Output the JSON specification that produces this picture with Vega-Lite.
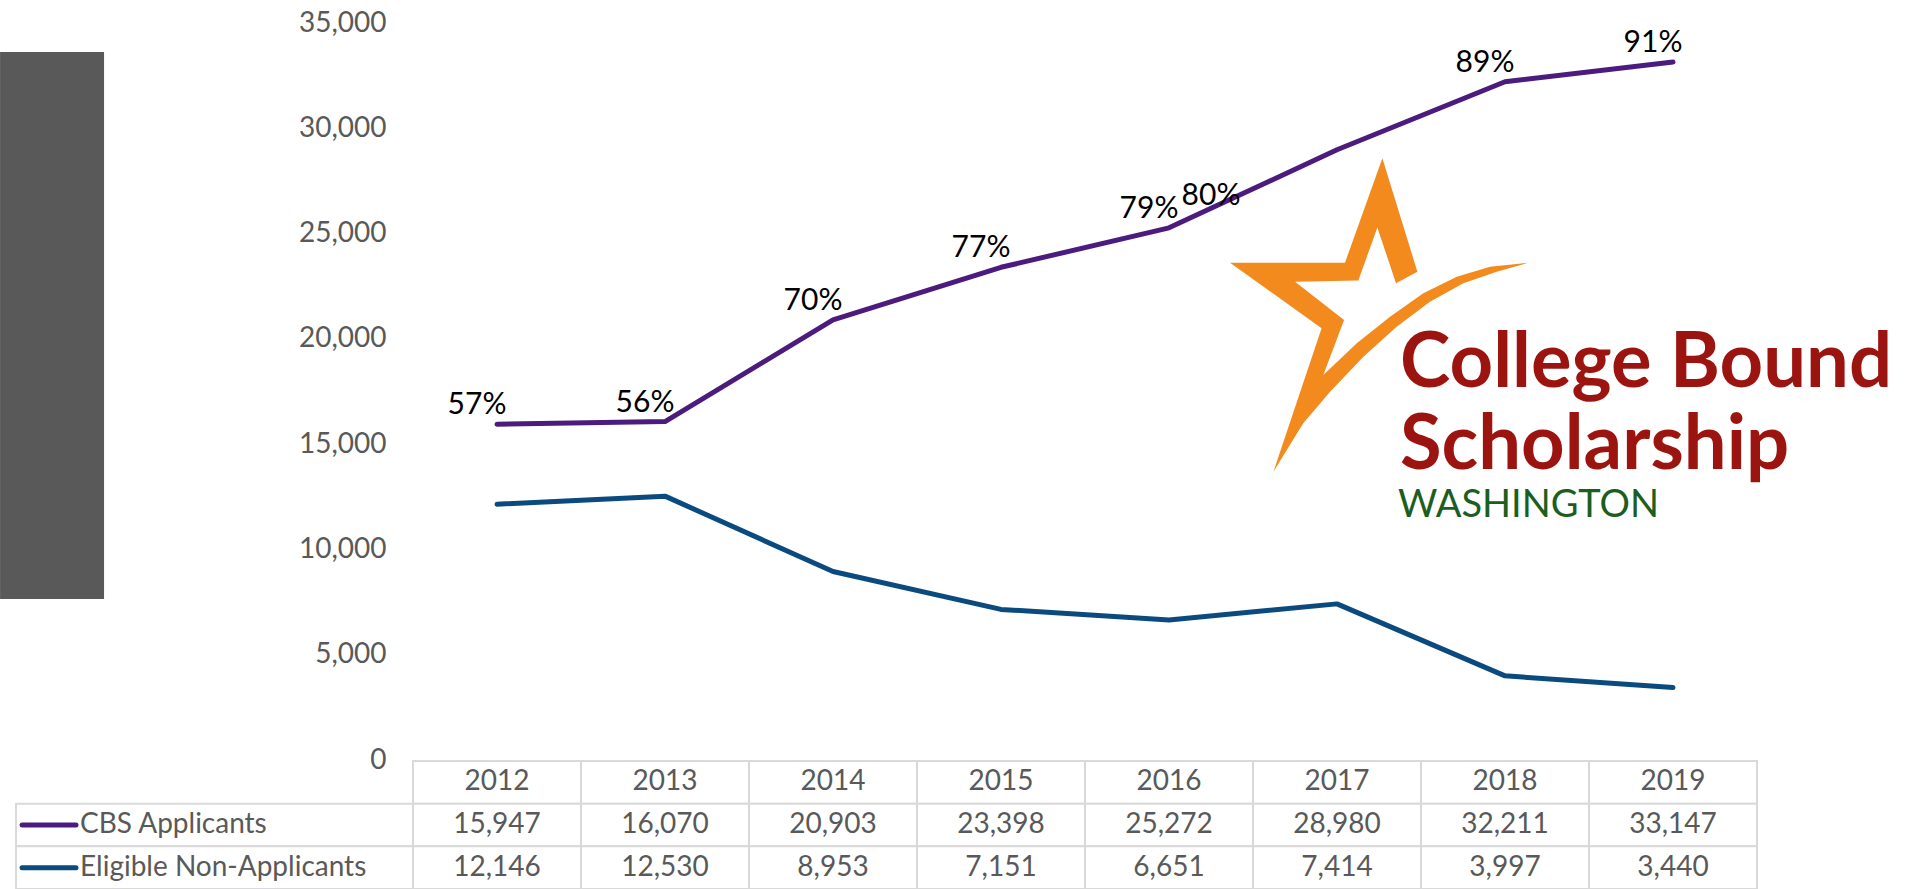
{
  "$schema": "https://vega.github.io/schema/vega-lite/v6.json",
  "autosize": {"type": "none"},
  "width": 1344,
  "height": 866,
  "padding": {"left": 413, "top": 23, "right": 156, "bottom": 0},
  "background": "white",
  "config": {"view": {"stroke": null}, "font": "Lato"},
  "data": {"values": [
    {"year": 2012, "series": "CBS Applicants", "value": 15947, "pct": 0.57},
    {"year": 2013, "series": "CBS Applicants", "value": 16070, "pct": 0.56},
    {"year": 2014, "series": "CBS Applicants", "value": 20903, "pct": 0.70},
    {"year": 2015, "series": "CBS Applicants", "value": 23398, "pct": 0.77},
    {"year": 2016, "series": "CBS Applicants", "value": 25272, "pct": 0.79},
    {"year": 2017, "series": "CBS Applicants", "value": 28980, "pct": 0.80},
    {"year": 2018, "series": "CBS Applicants", "value": 32211, "pct": 0.89},
    {"year": 2019, "series": "CBS Applicants", "value": 33147, "pct": 0.91},
    {"year": 2012, "series": "Eligible Non-Applicants", "value": 12146},
    {"year": 2013, "series": "Eligible Non-Applicants", "value": 12530},
    {"year": 2014, "series": "Eligible Non-Applicants", "value": 8953},
    {"year": 2015, "series": "Eligible Non-Applicants", "value": 7151},
    {"year": 2016, "series": "Eligible Non-Applicants", "value": 6651},
    {"year": 2017, "series": "Eligible Non-Applicants", "value": 7414},
    {"year": 2018, "series": "Eligible Non-Applicants", "value": 3997},
    {"year": 2019, "series": "Eligible Non-Applicants", "value": 3440}
  ]},
  "resolve": {"scale": {"x": "independent", "y": "independent"}},
  "layer": [
    {
      "layer": [
        {
          "data": {"values": [{}]},
          "mark": {"type": "rect", "color": "#595959"},
          "encoding": {
            "x": {"datum": 2009.042, "type": "quantitative", "scale": {"domain": [2011.5, 2019.5], "nice": false, "zero": false}, "axis": null},
            "x2": {"datum": 2009.661},
            "y": {"datum": 33623, "type": "quantitative", "scale": {"domain": [0, 35000], "range": [737, 0], "nice": false, "zero": false},
              "axis": {"values": [0, 5000, 10000, 15000, 20000, 25000, 30000, 35000], "labelExpr": "format(datum.value, ',')", "domain": false, "ticks": false, "grid": false, "labelPadding": 27, "labelFont": "Lato", "labelFontSize": 28, "labelColor": "#595959", "title": null}},
            "y2": {"datum": 7646}
          }
        },
        {
          "data": {"values": [{}]},
          "mark": {"type": "point", "filled": true, "opacity": 1, "color": "#F28A1E", "strokeWidth": 0, "size": 98596,
            "shape": "M0.015,-0.998L-0.223,-0.333L-0.955,-0.333L-0.372,0.085L-0.679,0.998L-0.489,0.690L-0.318,0.489L-0.106,0.266L0.106,0.075L0.318,-0.085L0.531,-0.202L0.743,-0.276L0.945,-0.333L0.701,-0.308L0.489,-0.244L0.276,-0.138L0.064,0.011L-0.148,0.180L-0.361,0.382L-0.229,0.032L-0.541,-0.212L-0.138,-0.219L-0.017,-0.558L0.102,-0.202L0.238,-0.276Z"},
          "encoding": {
            "x": {"datum": 2017.256, "type": "quantitative"},
            "y": {"datum": 21133, "type": "quantitative"}
          }
        },
        {
          "data": {"values": [{}]},
          "mark": {"type": "text", "text": "College Bound", "align": "left", "baseline": "alphabetic", "font": "Lato", "fontWeight": "bold", "fontSize": 76, "color": "#9B1410"},
          "encoding": {
            "x": {"datum": 2017.375, "type": "quantitative"},
            "y": {"datum": 17714, "type": "quantitative"}
          }
        },
        {
          "data": {"values": [{}]},
          "mark": {"type": "text", "text": "Scholarship", "align": "left", "baseline": "alphabetic", "font": "Lato", "fontWeight": "bold", "fontSize": 76, "color": "#9B1410"},
          "encoding": {
            "x": {"datum": 2017.375, "type": "quantitative"},
            "y": {"datum": 13820, "type": "quantitative"}
          }
        },
        {
          "data": {"values": [{}]},
          "mark": {"type": "text", "text": "WASHINGTON", "align": "left", "baseline": "alphabetic", "font": "Lato", "fontWeight": "normal", "fontSize": 38, "letterSpacing": 16, "color": "#1B5E20"},
          "encoding": {
            "x": {"datum": 2017.363, "type": "quantitative"},
            "y": {"datum": 11540, "type": "quantitative"}
          }
        },
        {
          "mark": {"type": "line", "strokeWidth": 5, "strokeCap": "round", "strokeJoin": "round"},
          "encoding": {
            "x": {"field": "year", "type": "quantitative"},
            "y": {"field": "value", "type": "quantitative"},
            "color": {"field": "series", "type": "nominal", "scale": {"domain": ["CBS Applicants", "Eligible Non-Applicants"], "range": ["#4B1C7D", "#0B4A7F"]}, "legend": null}
          }
        },
        {
          "transform": [{"filter": "datum.series === 'CBS Applicants' && datum.year !== 2017"}],
          "mark": {"type": "text", "align": "center", "baseline": "alphabetic", "dx": -20, "dy": -10, "font": "Lato", "fontSize": 30, "color": "#000000"},
          "encoding": {
            "x": {"field": "year", "type": "quantitative"},
            "y": {"field": "value", "type": "quantitative"},
            "text": {"field": "pct", "type": "quantitative", "format": ".0%"}
          }
        },
        {
          "transform": [{"filter": "datum.series === 'CBS Applicants' && datum.year === 2017"}],
          "mark": {"type": "text", "align": "center", "baseline": "alphabetic", "dx": -126, "dy": 55, "font": "Lato", "fontSize": 30, "color": "#000000"},
          "encoding": {
            "x": {"field": "year", "type": "quantitative"},
            "y": {"field": "value", "type": "quantitative"},
            "text": {"field": "pct", "type": "quantitative", "format": ".0%"}
          }
        }
      ]
    },
    {
      "encoding": {
        "x": {"field": "year", "type": "ordinal", "scale": {"type": "band", "domain": [2012, 2013, 2014, 2015, 2016, 2017, 2018, 2019], "range": [0, 1344], "paddingInner": 0, "paddingOuter": 0}, "axis": null}
      },
      "layer": [
        {
          "transform": [{"filter": "datum.series === 'CBS Applicants'"}],
          "mark": {"type": "rect", "fill": "white", "stroke": "#d9d9d9", "strokeWidth": 2},
          "encoding": {
            "y": {"datum": "Year", "type": "nominal", "scale": {"type": "band", "domain": ["Year", "CBS Applicants", "Eligible Non-Applicants"], "range": [738, 866], "paddingInner": 0, "paddingOuter": 0}, "axis": null}
          }
        },
        {
          "mark": {"type": "rect", "fill": "white", "stroke": "#d9d9d9", "strokeWidth": 2},
          "encoding": {
            "y": {"field": "series", "type": "nominal"}
          }
        },
        {
          "transform": [{"filter": "datum.series === 'CBS Applicants'"}],
          "mark": {"type": "text", "align": "center", "baseline": "middle", "font": "Lato", "fontSize": 28, "color": "#595959"},
          "encoding": {
            "y": {"datum": "Year", "type": "nominal"},
            "text": {"field": "year", "type": "nominal"}
          }
        },
        {
          "mark": {"type": "text", "align": "center", "baseline": "middle", "font": "Lato", "fontSize": 28, "color": "#595959"},
          "encoding": {
            "y": {"field": "series", "type": "nominal"},
            "text": {"field": "value", "type": "quantitative", "format": ","}
          }
        }
      ]
    },
    {
      "transform": [{"filter": "datum.year === 2012"}],
      "layer": [
        {
          "mark": {"type": "rect", "fill": "white", "stroke": "#d9d9d9", "strokeWidth": 2},
          "encoding": {
            "x": {"datum": 2009.137, "type": "quantitative", "scale": {"domain": [2011.5, 2019.5], "nice": false, "zero": false}, "axis": null},
            "x2": {"datum": 2011.5},
            "y": {"field": "series", "type": "nominal", "scale": {"type": "band", "domain": ["Year", "CBS Applicants", "Eligible Non-Applicants"], "range": [738, 866], "paddingInner": 0, "paddingOuter": 0}, "axis": null}
          }
        },
        {
          "mark": {"type": "rule", "strokeWidth": 5, "strokeCap": "round"},
          "encoding": {
            "x": {"datum": 2009.173, "type": "quantitative"},
            "x2": {"datum": 2009.494},
            "y": {"field": "series", "type": "nominal"},
            "color": {"field": "series", "type": "nominal", "legend": null}
          }
        },
        {
          "mark": {"type": "text", "align": "left", "baseline": "middle", "font": "Lato", "fontSize": 28, "color": "#595959"},
          "encoding": {
            "x": {"datum": 2009.518, "type": "quantitative"},
            "y": {"field": "series", "type": "nominal"},
            "text": {"field": "series", "type": "nominal"}
          }
        }
      ]
    }
  ]
}
